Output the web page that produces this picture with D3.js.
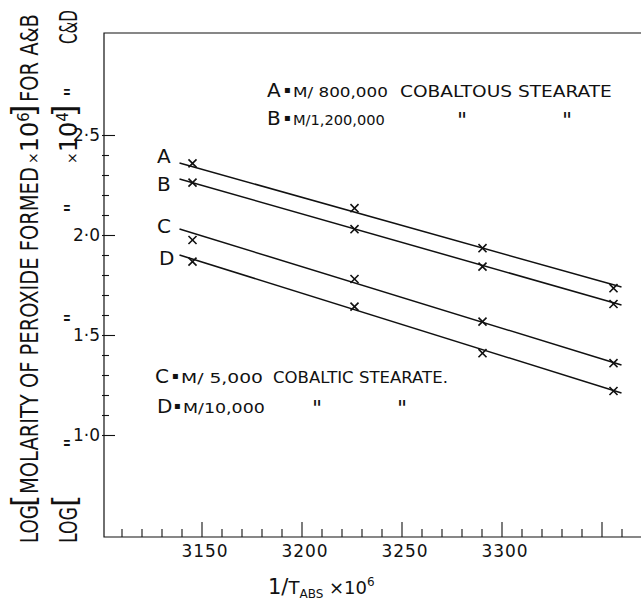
<!DOCTYPE html>
<html>
<head>
<meta charset="utf-8">
<script src="https://cdn.jsdelivr.net/npm/d3@7"></script>
<style>
  body { margin: 0; background: #fff; }
  svg text { font-family: "DejaVu Sans", sans-serif; fill: #111; }
</style>
</head>
<body>
<div id="chart"></div>
<script>
// 1/T(abs) x 10^6 for the four runs
const invT = [3145.5, 3226.5, 3290.5, 3356];
const seriesNames = ["A", "B", "C", "D"];
// measured log values
const logA = [2.358, 2.134, 1.934, 1.734];
const logB = [2.262, 2.029, 1.842, 1.655];
const logC = [1.975, 1.780, 1.567, 1.359];
const logD = [1.867, 1.642, 1.409, 1.220];
// fitted straight lines (ends)
const fitX = [3139, 3360];
const fitA = [2.36, 1.74];
const fitB = [2.28, 1.65];
const fitC = [2.03, 1.35];
const fitD = [1.90, 1.21];
// ticks
const xLabels = [3150, 3200, 3250, 3300];
const xMajor = [3150, 3200, 3250, 3300, 3350];
const yLabels = [1.0, 1.5, 2.0, 2.5];

const width = 641, height = 604;

var svg = d3.select("#chart")
    .append("svg")
    .attr("width", width)
    .attr("height", height);

svg.append("rect").attr("width", width).attr("height", height).attr("fill", "#fff");

var x = d3.scaleLinear().domain([3101.25, 3369.75]).range([104, 641]);
var y = d3.scaleLinear().domain([0.49, 3.01]).range([537, 33]);

// frame
svg.append("path")
    .attr("d", `M${x.range()[1]},${y(3.01)} H${x(3101.25)} V${y(0.49)} H${x.range()[1]}`)
    .attr("fill", "none")
    .attr("stroke", "#111")
    .attr("stroke-width", 1.2);

// X axis ticks
const xMinor = d3.range(3110, 3361, 10).filter(v => !xMajor.includes(v));
svg.append("g")
    .attr("transform", `translate(0,${y(0.49)})`)
    .call(d3.axisTop(x).tickValues(xMinor).tickSize(8).tickFormat(""))
    .call(g => g.select(".domain").remove());
svg.append("g")
    .attr("transform", `translate(0,${y(0.49)})`)
    .call(d3.axisTop(x).tickValues(xMajor).tickSize(15).tickFormat(""))
    .call(g => g.select(".domain").remove());
svg.append("g")
    .attr("transform", `translate(0,${y(0.49)})`)
    .call(d3.axisBottom(x).tickValues(xLabels).tickSize(0).tickPadding(8).tickFormat(d3.format("d")))
    .call(g => g.select(".domain").remove())
    .selectAll("text")
    .attr("dx", 3)
    .style("font-family", "DejaVu Sans")
    .style("font-size", "17px")
    .style("letter-spacing", "1px");

// Y axis ticks
const yMinor = d3.range(11, 25).filter(v => v % 5 !== 0).map(v => v / 10);
svg.append("g")
    .attr("transform", "translate(102,0)")
    .call(d3.axisRight(y).tickValues(yMinor).tickSize(7).tickFormat(""))
    .call(g => g.select(".domain").remove());
svg.append("g")
    .attr("transform", "translate(102,0)")
    .call(d3.axisRight(y).tickValues(yLabels).tickSize(13).tickFormat(""))
    .call(g => g.select(".domain").remove());
svg.append("g")
    .attr("transform", "translate(102,0)")
    .call(d3.axisLeft(y).tickValues(yLabels).tickSize(0).tickPadding(2)
        .tickFormat(d => d3.format(".1f")(d).replace(".", "·")))
    .call(g => g.select(".domain").remove())
    .selectAll("text")
    .style("font-family", "DejaVu Sans")
    .style("font-size", "17px");

svg.selectAll(".tick line").attr("stroke", "#111").attr("stroke-width", 1.1);

// series
const series = [
    { name: seriesNames[0], pts: logA, fit: fitA },
    { name: seriesNames[1], pts: logB, fit: fitB },
    { name: seriesNames[2], pts: logC, fit: fitC },
    { name: seriesNames[3], pts: logD, fit: fitD }
];

var line = d3.line().x(d => x(d[0])).y(d => y(d[1]));
svg.selectAll(".fit")
    .data(series)
    .join("path")
    .attr("class", "fit")
    .attr("d", s => line(fitX.map((v, i) => [v, s.fit[i]])))
    .attr("fill", "none")
    .attr("stroke", "#111")
    .attr("stroke-width", 1.5);

var cross = d3.symbol().type(d3.symbolX).size(44);
series.forEach(s => {
    svg.selectAll(null)
        .data(s.pts)
        .join("path")
        .attr("transform", (d, i) => `translate(${x(invT[i])},${y(d)})`)
        .attr("d", cross)
        .attr("fill", "none")
        .attr("stroke", "#111")
        .attr("stroke-width", 1.6);
});

// series letters next to the lines
const letterPos = [[157, 163], [157, 191], [157, 233], [159, 265]];
svg.selectAll(".slabel")
    .data(series)
    .join("text")
    .attr("x", (s, i) => letterPos[i][0])
    .attr("y", (s, i) => letterPos[i][1])
    .style("font-size", "20px")
    .text(s => s.name);

// squeeze a horizontal text to a given length
function fitH(t, len) {
    var n = t.node().getComputedTextLength();
    var k = len / n;
    var xx = +t.attr("x"), yy = +t.attr("y");
    t.attr("x", 0).attr("y", 0).attr("transform", `translate(${xx},${yy}) scale(${k},1)`);
    return t;
}

// legend rows
function legendRow(lx, by, letter, conc, rest, concLen, restX, restLen) {
    svg.append("text").attr("x", lx).attr("y", by).style("font-size", "20px").text(letter);
    svg.append("text").attr("x", lx + 17).attr("y", by - 4).style("font-size", "10px").text("▪");
    fitH(svg.append("text").attr("x", lx + 26).attr("y", by).style("font-size", "14px").text(conc), concLen);
    if (rest) {
        fitH(svg.append("text").attr("x", restX).attr("y", by).style("font-size", "16px").text(rest), restLen);
    }
}
function ditto(cx, by) {
    svg.append("text").attr("x", cx).attr("y", by + 3).attr("text-anchor", "middle")
        .style("font-size", "22px").text('"');
}
legendRow(267, 97, "A", "M/ 800,000", "COBALTOUS STEARATE", 95, 400, 212);
legendRow(267, 125, "B", "M/1,200,000", null, 92);
ditto(462, 125); ditto(567, 125);
legendRow(155, 383, "C", "M/ 5,000", "COBALTIC STEARATE.", 82, 273, 175);
legendRow(157, 413, "D", "M/10,000", null, 82);
ditto(317, 413); ditto(402, 413);

// x title
var xt = svg.append("text").attr("x", 268).attr("y", 594);
xt.append("tspan").style("font-size", "21px").text("1/");
xt.append("tspan").style("font-size", "18px").text("T");
xt.append("tspan").attr("dy", 4).style("font-size", "12px").text("ABS");
xt.append("tspan").attr("dy", -4).style("font-size", "18px").text(" ×10");
xt.append("tspan").attr("dy", -8).style("font-size", "12px").text("6");

// y title, two rotated lines; each piece squeezed to its measured length
function vt(bx, y0, str, size, len) {
    var t = svg.append("text")
        .style("font-size", size + "px")
        .text(str);
    var k = len ? len / t.node().getComputedTextLength() : 1;
    t.attr("transform", `translate(${bx},${y0}) rotate(-90) scale(${k},1)`);
    return t;
}
function vpow(bx, y0, exp) {
    var t = svg.append("text").attr("transform", `translate(${bx},${y0}) rotate(-90)`);
    t.append("tspan").style("font-size", "14px").text("×");
    t.append("tspan").style("font-size", "24px").text("10");
    t.append("tspan").attr("dy", -9).style("font-size", "15px").text(exp);
}
function vditto(bx, yc) {
    svg.append("text")
        .attr("transform", `translate(${bx},${yc}) rotate(-90)`)
        .attr("text-anchor", "middle")
        .style("font-size", "22px")
        .text('"');
}
// line 1
vt(38, 543, "LOG", 24, 38);
vt(34, 507, "[", 32);
vt(38, 494, "MOLARITY OF PEROXIDE FORMED", 24, 327);
vpow(38, 164, "6");
vt(34, 117, "]", 32);
vt(38, 102, "FOR A&B", 24, 88);
// line 2
vt(77, 543, "LOG", 24, 36);
vt(75, 507, "[", 32);
vditto(80, 443); vditto(80, 318); vditto(80, 208);
vpow(77, 164, "4");
vt(75, 117, "]", 32);
vditto(80, 92);
vt(77, 44, "C&D", 24, 34);
</script>
</body>
</html>
